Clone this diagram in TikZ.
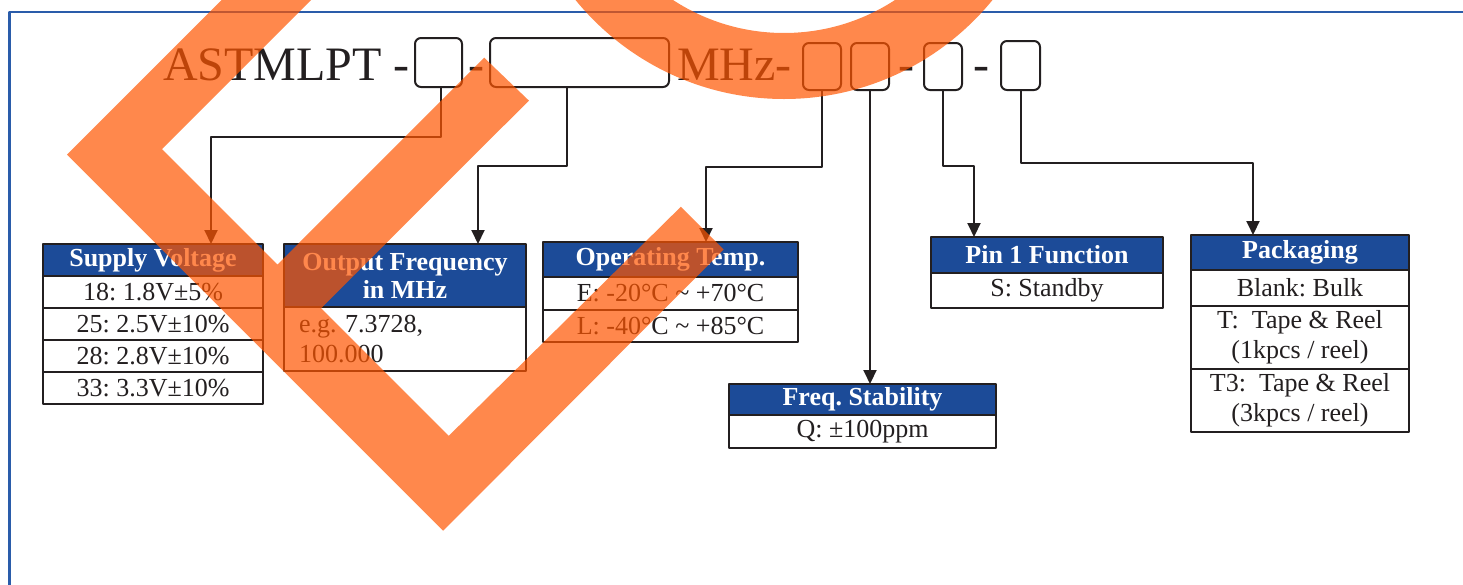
\documentclass[tikz,border=0pt]{standalone}
\usepackage{fontspec}
\setmainfont{Liberation Serif}
\usepackage{tikz}
\usetikzlibrary{arrows.meta}
\usetikzlibrary{positioning}
\frenchspacing
\definecolor{hdblue}{RGB}{28,75,152}
\definecolor{frameblue}{RGB}{42,92,170}
\definecolor{ink}{RGB}{35,31,32}
\definecolor{stamp}{RGB}{255,85,0}
\tikzset{hd/.style={draw=ink, line width=2.2pt, fill=hdblue, text=white, font=\bfseries\fontsize{26}{28}\selectfont, inner sep=0pt, outer sep=0pt, align=center}}
\tikzset{rw/.style={draw=ink, line width=2.2pt, fill=white, text=ink, font=\fontsize{26}{30}\selectfont, inner sep=0pt, outer sep=0pt, align=center}}
\tikzset{bx/.style={draw=ink, line width=2pt, rounded corners=6pt, inner sep=0pt, outer sep=0pt}}
\tikzset{tt/.style={text=ink, font=\fontsize{48}{48}\selectfont, inner sep=0pt}}
\tikzset{ar/.style={draw=ink, line width=2pt, -{Triangle[length=14pt,width=13pt]}}}

\begin{document}
\begin{tikzpicture}[x=1pt, y=-1pt, line join=round]
\useasboundingbox (0,0) rectangle (1463,584);
\draw[frameblue, line width=2.6pt] (9.5,590) -- (9.5,12) -- (1470,12);

% part number
\node[tt, anchor=base west] (pn) at (163,80) {ASTMLPT -};
\node[bx, anchor=north west, minimum width=47pt, minimum height=49pt] (b1) at (415,38) {};
\node[tt, anchor=base] (d1) at (476,80) {-};
\node[bx, anchor=north west, minimum width=179pt, minimum height=49pt] (b2) at (490,38) {};
\node[tt, anchor=base west] (mhz) at (677,80) {MHz-};
\node[bx, anchor=north west, minimum width=38pt, minimum height=47pt] (b3) at (803,43) {};
\node[bx, anchor=north west, minimum width=38pt, minimum height=47pt] (b4) at (851,43) {};
\node[tt, anchor=base] (d2) at (906,80) {-};
\node[bx, anchor=north west, minimum width=38pt, minimum height=47pt] (b5) at (924,43) {};
\node[tt, anchor=base] (d3) at (981,80) {-};
\node[bx, anchor=north west, minimum width=39pt, minimum height=49pt] (b6) at (1001,41) {};

% supply voltage
\node[hd, anchor=north west, minimum width=220pt, minimum height=32pt] (sv) at (43,244) {Supply Voltage};
\node[rw, below=0pt of sv, minimum width=220pt, minimum height=32pt] (sv1) {18: 1.8V±5\%};
\node[rw, below=0pt of sv1, minimum width=220pt, minimum height=32pt] (sv2) {25: 2.5V±10\%};
\node[rw, below=0pt of sv2, minimum width=220pt, minimum height=32pt] (sv3) {28: 2.8V±10\%};
\node[rw, below=0pt of sv3, minimum width=220pt, minimum height=32pt] (sv4) {33: 3.3V±10\%};

% output frequency
\node[hd, anchor=north west, minimum width=242pt, minimum height=63pt] (of) at (284,244) {Output Frequency\\in MHz};
\node[rw, below=0pt of of, minimum width=242pt, minimum height=64pt, text width=212pt, align=left] (of1) {e.g. 7.3728,\\100.000};

% operating temp
\node[hd, anchor=north west, minimum width=255pt, minimum height=35pt] (ot) at (543,242) {Operating Temp.};
\node[rw, below=0pt of ot, minimum width=255pt, minimum height=33pt] (ot1) {E: -20°C \textasciitilde\ +70°C};
\node[rw, below=0pt of ot1, minimum width=255pt, minimum height=32pt] (ot2) {L: -40°C \textasciitilde\ +85°C};

% freq stability
\node[hd, anchor=north west, minimum width=267pt, minimum height=31pt] (fs) at (729,384) {Freq. Stability};
\node[rw, below=0pt of fs, minimum width=267pt, minimum height=33pt] (fs1) {Q: ±100ppm};

% pin 1
\node[hd, anchor=north west, minimum width=232pt, minimum height=36pt] (pf) at (931,237) {Pin 1 Function};
\node[rw, below=0pt of pf, minimum width=232pt, minimum height=35pt] (pf1) {S: Standby};

% packaging
\node[hd, anchor=north west, minimum width=218pt, minimum height=35pt] (pk) at (1191,235) {Packaging};
\node[rw, below=0pt of pk, minimum width=218pt, minimum height=36pt] (pk1) {Blank: Bulk};
\node[rw, below=0pt of pk1, minimum width=218pt, minimum height=63pt] (pk2) {T:\ \ Tape \& Reel\\(1kpcs / reel)};
\node[rw, below=0pt of pk2, minimum width=218pt, minimum height=63pt] (pk3) {T3:\ \ Tape \& Reel\\(3kpcs / reel)};

% connectors
\draw[ar] ([xshift=2pt]b1.south) -- ++(0,50) -| (sv.north -| 211,0);
\draw[ar] ([xshift=-13pt]b2.south) -- ++(0,79) -| (of.north -| 478,0);
\draw[ar] (b3.south) -- ++(0,77) -| (ot.north -| 706,0);
\draw[ar] (b4.south) -- (b4.south |- fs.north);
\draw[ar] (b5.south) -- ++(0,76) -| (pf.north -| 974,0);
\draw[ar] (b6.south) -- ++(0,73) -| (pk.north -| 1253,0);

% stamp
\begin{scope}
\clip (0,0) rectangle (1463,584);
\fill[stamp, fill opacity=0.7] (221.6,0) -- (67,154.6) -- (443.2,530.7) -- (723.7,249.5) -- (680.9,206.7) -- (448.8,435.8) -- (321.2,308.2) -- (528.9,100.6) -- (484.2,57.7) -- (277.5,264.5) -- (162,149) -- (311,0) -- cycle;
\fill[stamp, fill opacity=0.7, even odd rule] (784,-170) circle[radius=269] (784,-170) circle[radius=203];
\end{scope}
\end{tikzpicture}
\end{document}
